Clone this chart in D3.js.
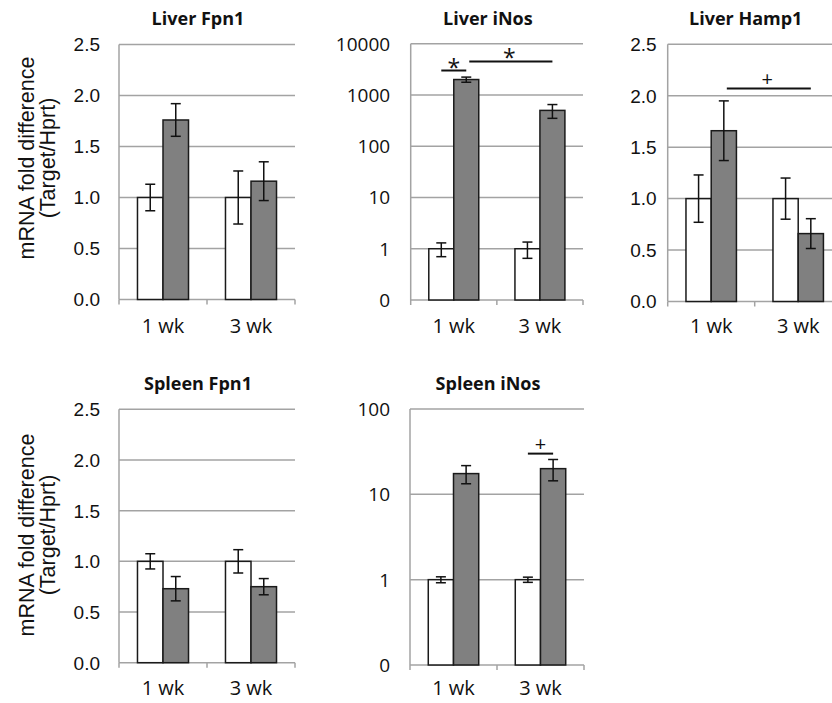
<!DOCTYPE html>
<html>
<head>
<meta charset="utf-8">
<script src="https://cdn.jsdelivr.net/npm/d3@7"></script>
<style>
  body { margin: 0; background: #fff; }
  svg { display: block; }
</style>
</head>
<body>
<div id="visualization"></div>
<script>
// Data: [week][control, treated]
const categories = ["1 wk", "3 wk"];

const liverFpn1Mean = [[1.00, 1.76], [1.00, 1.16]];
const liverFpn1Err  = [[0.13, 0.16], [0.26, 0.19]];

const liverINosMean = [[1.0, 2000], [1.0, 500]];
const liverINosErr  = [[0.3, 230], [0.35, 150]];

const liverHamp1Mean = [[1.00, 1.66], [1.00, 0.66]];
const liverHamp1Err  = [[0.23, 0.29], [0.20, 0.145]];

const spleenFpn1Mean = [[1.00, 0.73], [1.00, 0.75]];
const spleenFpn1Err  = [[0.075, 0.12], [0.115, 0.08]];

const spleenINosMean = [[1.0, 17.5], [1.0, 20]];
const spleenINosErr  = [[0.08, 4.2], [0.07, 5.6]];

// tick labels
const linearTicks = [0, 0.5, 1.0, 1.5, 2.0, 2.5];
const liverINosTicks = [0.1, 1, 10, 100, 1000, 10000];
const spleenINosTicks = [0.1, 1, 10, 100];

// significance marks: [from week, from bar, to week, to bar, value, label]
const liverINosSig = [[0, 0, 0, 1, 3000, "*"], [0, 1, 1, 1, 4500, "*"]];
const liverHamp1Sig = [[0, 1, 1, 1, 2.07, "+"]];
const spleenINosSig = [[1, 0, 1, 1, 30, "+"]];

const W = 832, H = 703;
const gridColor = "#a3a3a3";
const arial = "'Liberation Sans', Arial, sans-serif";
const calibri = "'Open Sans', Lato, sans-serif";

const svg = d3.select("#visualization")
              .append("svg")
              .attr("width", W)
              .attr("height", H);

const panels = [
  { title: "Liver Fpn1", mean: liverFpn1Mean, err: liverFpn1Err, log: false, ticks: linearTicks,
    x0: 119, x1: 295, top: 44.5, bottom: 299.5, labelGap: 19, tickFont: arial, titleY: 25, catY: 333, sig: [] },
  { title: "Liver iNos", mean: liverINosMean, err: liverINosErr, log: true, ticks: liverINosTicks,
    x0: 410.7, x1: 583, top: 43.7, bottom: 300, labelGap: 20.5, tickFont: calibri, titleY: 25, catY: 333, sig: liverINosSig },
  { title: "Liver Hamp1", mean: liverHamp1Mean, err: liverHamp1Err, log: false, ticks: linearTicks,
    x0: 667.7, x1: 841.7, top: 44.3, bottom: 301.5, labelGap: 11, tickFont: arial, titleY: 25, catY: 333, sig: liverHamp1Sig },
  { title: "Spleen Fpn1", mean: spleenFpn1Mean, err: spleenFpn1Err, log: false, ticks: linearTicks,
    x0: 119, x1: 295, top: 409.3, bottom: 662.7, labelGap: 19, tickFont: arial, titleY: 390, catY: 695, sig: [] },
  { title: "Spleen iNos", mean: spleenINosMean, err: spleenINosErr, log: true, ticks: spleenINosTicks,
    x0: 410, x1: 584, top: 409, bottom: 665, labelGap: 20, tickFont: calibri, titleY: 390, catY: 695, sig: spleenINosSig }
];

panels.forEach(p => drawPanel(p));

// shared y axis titles
[158, 535].forEach(cy => {
  const t = svg.append("text")
     .attr("transform", `translate(26,${cy}) rotate(-90)`)
     .attr("text-anchor", "middle")
     .style("font-family", arial)
     .style("font-size", "21.5px")
     .attr("fill", "#111");
  t.append("tspan").attr("x", 0).attr("dy", "0.35em").text("mRNA fold difference");
  t.append("tspan").attr("x", 0).attr("dy", "1.0em").text("(Target/Hprt)");
});

function drawPanel(p) {
  const g = svg.append("g");

  const y = p.log
    ? d3.scaleLog().domain([p.ticks[0], p.ticks[p.ticks.length - 1]]).range([p.bottom, p.top])
    : d3.scaleLinear().domain([0, 2.5]).range([p.bottom, p.top]);
  const base = p.log ? p.ticks[0] : 0;

  const x = d3.scaleBand().domain(categories).range([p.x0, p.x1]).padding(0);
  const bw = x.bandwidth() * 0.29;
  const inner = d3.scaleBand().domain([0, 1])
                  .range([(x.bandwidth() - 2 * bw) / 2, (x.bandwidth() + 2 * bw) / 2]);

  // gridlines
  g.selectAll(".grid")
   .data(p.ticks)
   .join("line")
   .attr("x1", p.x0).attr("x2", p.x1)
   .attr("y1", d => y(d)).attr("y2", d => y(d))
   .attr("stroke", gridColor)
   .attr("stroke-width", 1.5);

  // left axis line
  g.append("line")
   .attr("x1", p.x0).attr("x2", p.x0)
   .attr("y1", p.top).attr("y2", p.bottom)
   .attr("stroke", gridColor).attr("stroke-width", 1.5);

  // x ticks at band edges
  const edges = categories.map(c => x(c)).concat([p.x1]);
  g.selectAll(".xtick")
   .data(edges)
   .join("line")
   .attr("x1", d => d).attr("x2", d => d)
   .attr("y1", p.bottom).attr("y2", p.bottom + 5)
   .attr("stroke", gridColor).attr("stroke-width", 1.5);

  // y tick labels
  const fmt = p.log ? (d => d < 1 ? "0" : String(d)) : d3.format(".1f");
  g.selectAll(".ylab")
   .data(p.ticks)
   .join("text")
   .attr("x", p.x0 - p.labelGap)
   .attr("y", d => y(d))
   .attr("dy", "0.36em")
   .attr("text-anchor", "end")
   .style("font-family", p.tickFont)
   .style("font-size", "19px")
   .attr("fill", "#111")
   .text(fmt);

  // bars
  const rows = [];
  categories.forEach((c, i) => {
    p.mean[i].forEach((m, j) => rows.push({ c, j, m, e: p.err[i][j] }));
  });

  g.selectAll(".bar")
   .data(rows)
   .join("rect")
   .attr("x", d => x(d.c) + inner(d.j))
   .attr("y", d => y(d.m))
   .attr("width", bw)
   .attr("height", d => y(base) - y(d.m))
   .attr("fill", d => d.j === 0 ? "#ffffff" : "#808080")
   .attr("stroke", "#1a1a1a")
   .attr("stroke-width", 1.5);

  // error bars
  const cx = d => x(d.c) + inner(d.j) + bw / 2;
  const eb = g.selectAll(".err").data(rows).join("g");
  eb.append("line")
    .attr("x1", cx).attr("x2", cx)
    .attr("y1", d => y(d.m - d.e)).attr("y2", d => y(d.m + d.e))
    .attr("stroke", "#111").attr("stroke-width", 1.5);
  eb.append("line")
    .attr("x1", d => cx(d) - 5).attr("x2", d => cx(d) + 5)
    .attr("y1", d => y(d.m - d.e)).attr("y2", d => y(d.m - d.e))
    .attr("stroke", "#111").attr("stroke-width", 1.5);
  eb.append("line")
    .attr("x1", d => cx(d) - 5).attr("x2", d => cx(d) + 5)
    .attr("y1", d => y(d.m + d.e)).attr("y2", d => y(d.m + d.e))
    .attr("stroke", "#111").attr("stroke-width", 1.5);

  // category labels
  g.selectAll(".cat")
   .data(categories)
   .join("text")
   .attr("x", d => x(d) + x.bandwidth() / 2)
   .attr("y", p.catY)
   .attr("text-anchor", "middle")
   .style("font-family", calibri)
   .style("font-size", "20px")
   .attr("fill", "#111")
   .text(d => d);

  // title
  g.append("text")
   .attr("x", (p.x0 + p.x1) / 2 - 9)
   .attr("y", p.titleY)
   .attr("text-anchor", "middle")
   .style("font-family", calibri)
   .style("font-weight", "bold")
   .style("font-size", "18px")
   .attr("fill", "#111")
   .text(p.title);

  // significance marks
  p.sig.forEach(s => {
    const xa = x(categories[s[0]]) + inner(s[1]) + bw / 2;
    const xb = x(categories[s[2]]) + inner(s[3]) + bw / 2;
    const yy = y(s[4]);
    g.append("line")
     .attr("x1", xa + (s[0] !== s[2] ? 3 : 0)).attr("x2", xb)
     .attr("y1", yy).attr("y2", yy)
     .attr("stroke", "#111").attr("stroke-width", 2);
    g.append("text")
     .attr("x", (xa + xb) / 2)
     .attr("y", s[5] === "*" ? yy + 5 : yy - 3)
     .attr("text-anchor", "middle")
     .style("font-family", calibri)
     .style("font-size", s[5] === "*" ? "23px" : "20px")
     .attr("fill", "#111")
     .text(s[5]);
  });
}
</script>
</body>
</html>
